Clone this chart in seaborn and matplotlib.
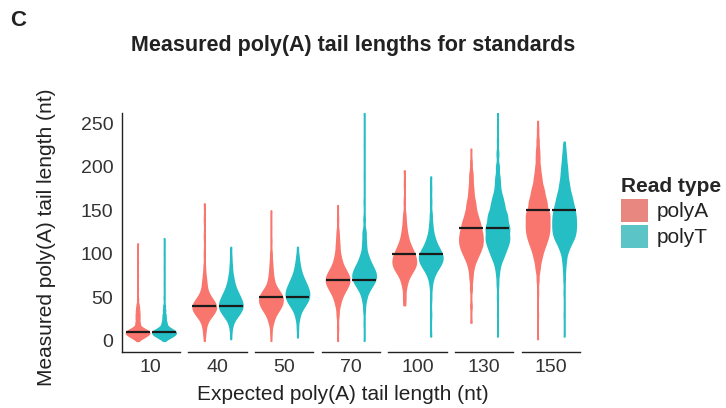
import numpy as np
import matplotlib
matplotlib.use('Agg')
import matplotlib.pyplot as plt
from matplotlib.patches import Patch
import seaborn as sns

sns.set_style('white')
plt.rcParams['font.family'] = ['Liberation Sans', 'DejaVu Sans']

#dados

expected = [10, 40, 50, 70, 100, 130, 150]
read_types = ['polyA', 'polyT']

#perfil de cada violino: nível (nt) e largura relativa

polyA_level = {
    10: [0, 2, 4, 6, 8, 10, 12, 14, 16, 19, 22, 26, 30, 34, 38, 42, 48, 60, 75, 90, 112],
    40: [0, 8, 14, 20, 25, 30, 35, 40, 45, 50, 55, 60, 65, 70, 76, 85, 100, 120, 140, 158],
    50: [0, 10, 20, 25, 30, 35, 40, 45, 50, 55, 60, 65, 70, 75, 82, 90, 100, 115, 130, 150],
    70: [0, 15, 30, 40, 45, 50, 55, 60, 65, 70, 75, 80, 85, 90, 95, 100, 108, 116, 125, 140, 156],
    100: [41, 50, 60, 66, 70, 75, 80, 85, 90, 95, 100, 105, 110, 115, 120, 125, 130, 137, 145, 160, 180, 196],
    130: [21, 40, 60, 72, 80, 85, 90, 95, 100, 105, 110, 115, 120, 125, 130, 135, 140, 147, 155, 162, 170, 177, 185, 193, 205, 221],
    150: [2, 30, 55, 70, 81, 87, 93, 98, 104, 110, 116, 122, 128, 134, 140, 145, 150, 157, 163, 170, 177, 185, 192, 200, 210, 219, 230, 242, 253],
}
polyA_width = {
    10: [1, 6, 12, 18, 23, 25, 20, 12, 6, 4, 3.5, 3.5, 3.5, 3, 2.5, 1.5, 0.8, 0.5, 0.5, 0.5, 0.5],
    40: [0.5, 1.5, 2.5, 4, 8, 15, 21, 23, 18, 12, 7, 4.5, 4, 3, 2, 1, 0.6, 0.5, 0.5, 0.5],
    50: [0.5, 1, 3, 5, 9, 15, 20, 23.5, 23, 19, 12, 7, 5, 4, 3, 2, 1.2, 0.7, 0.5, 0.5],
    70: [0.5, 0.8, 1.5, 3, 5, 8, 12, 17, 22, 24, 22, 17, 12, 8.5, 6, 4.5, 3.5, 2.5, 1.5, 0.8, 0.5],
    100: [1.5, 2, 2.5, 4, 6, 10, 15, 20, 22, 21, 18, 15, 11, 8, 6, 4.5, 3.5, 2.5, 1.5, 0.8, 0.5, 0.5],
    130: [1, 1.2, 1.5, 2.5, 3.5, 5, 8, 12, 16, 20, 23, 24, 23.5, 22, 20, 17.5, 15, 12, 9, 7, 5, 4, 3.2, 2.5, 1.2, 0.5],
    150: [0.5, 0.6, 0.8, 1.5, 3, 4.5, 6.5, 9, 12, 16, 20, 23, 24.5, 25, 24.5, 23.5, 22, 19, 16.5, 14, 11, 8, 6, 4.5, 3.5, 2.8, 1.8, 1, 0.5],
}
polyT_level = {
    10: [0, 2, 4, 6, 8, 10, 12, 14, 16, 19, 22, 26, 30, 35, 40, 50, 65, 85, 100, 118],
    40: [2, 10, 16, 20, 25, 30, 35, 40, 45, 50, 55, 60, 65, 70, 76, 85, 95, 108],
    50: [4, 15, 25, 30, 35, 40, 45, 50, 55, 60, 65, 70, 75, 80, 85, 90, 97, 108],
    70: [0, 20, 35, 45, 50, 55, 60, 65, 70, 75, 80, 85, 90, 95, 100, 108, 116, 125, 140, 160, 190, 225, 262],
    100: [5, 30, 50, 62, 70, 75, 80, 85, 90, 95, 100, 105, 110, 115, 120, 127, 135, 145, 160, 175, 189],
    130: [5, 30, 50, 65, 75, 81, 85, 89, 93, 97, 102, 108, 114, 120, 127, 133, 140, 147, 155, 162, 168, 175, 182, 189, 200, 215, 230, 245, 262],
    150: [5, 30, 55, 70, 80, 88, 94, 100, 105, 110, 116, 122, 128, 134, 140, 146, 152, 158, 164, 170, 177, 184, 192, 200, 208, 215, 222, 229],
}
polyT_width = {
    10: [1, 6, 13, 19, 24, 25, 21, 13, 8, 5, 4, 3, 2.5, 2, 1.5, 0.8, 0.5, 0.5, 0.5, 0.5],
    40: [0.5, 1, 2, 3.5, 8, 15, 21, 24, 22, 18, 14, 10, 7, 5, 3.5, 2, 1, 0.6],
    50: [0.5, 1, 2.5, 4, 8, 14, 20, 24, 24.5, 22, 18, 14, 10, 7, 5, 3.5, 2, 0.7],
    70: [0.5, 0.7, 1.2, 2.5, 4, 7, 12, 18, 23, 25, 22, 18, 13, 9, 6, 4, 3, 2.5, 1.2, 0.7, 0.5, 0.5, 0.5],
    100: [0.5, 0.6, 0.8, 1.5, 3.5, 6, 11, 17, 22, 25, 23, 18, 13, 9, 6.5, 4, 2.5, 1.5, 0.8, 0.6, 0.5],
    130: [0.5, 0.6, 0.8, 1.2, 2, 3, 4.5, 6, 9, 12, 16, 20, 23, 24, 24, 22, 20, 18, 14, 11, 8, 5.5, 4.5, 3.5, 2.5, 1.5, 0.8, 0.6, 0.5],
    150: [0.5, 0.6, 0.8, 1, 1.5, 2.5, 3.5, 5, 8, 12, 18, 21.5, 23, 23, 23, 22, 20, 17.5, 15, 12.5, 10, 8, 6.5, 5.5, 4, 3, 2, 1],
}

levels = {'polyA': polyA_level, 'polyT': polyT_level}
widths = {'polyA': polyA_width, 'polyT': polyT_width}

colors = {'polyA': '#F8766D', 'polyT': '#24BEC4'}
key_colors = {'polyA': '#E8877F', 'polyT': '#5BC4C7'}
bandwidth = {10: 1.8, 40: 4.5, 50: 4.5, 70: 4.5, 100: 4.5, 130: 4.5, 150: 4.5}

W, H = 726, 408
fig = plt.figure(figsize=(W/100, H/100), dpi=100)

bottom = 1 - 351.7/H
top = 1 - 112.6/H

for i, exp in enumerate(expected):
    ax = fig.add_axes([(121.7 + 66.67*i)/W, bottom, 58.3/W, top - bottom])
    h = bandwidth[exp]
    for j, rt in enumerate(read_types):
        lv = np.array(levels[rt][exp], dtype=float)
        w = np.array(widths[rt][exp], dtype=float)
        #pesos -> contagens, para o kde reproduzir a largura lida
        gap = np.minimum(np.gradient(lv), 2.5*h)
        n = np.round(w*gap*10).astype(int)
        vals = np.repeat(lv, n)
        sns.violinplot(x=[rt]*len(vals), y=vals, order=read_types,
                       color=colors[rt], linecolor=colors[rt], linewidth=1.1,
                       width=0.88, cut=0, inner=None, density_norm='width',
                       bw_method=h/vals.std(), gridsize=400, saturation=1, ax=ax)
        ax.hlines(exp, j - 0.45, j + 0.45, color='#1a1a1a', lw=1.6, zorder=5)

    ax.set_xlim(-0.6, 1.6)
    ax.set_ylim(-12.5, 262.5)
    ax.set_xlabel('')
    ax.set_ylabel('')
    ax.set_xticks([0.5], [str(exp)])
    ax.tick_params(axis='x', length=0, pad=5, labelsize=14, labelcolor='#333333')
    ax.spines['top'].set_visible(False)
    ax.spines['right'].set_visible(False)
    ax.spines['bottom'].set_color('#222222')
    ax.spines['bottom'].set_linewidth(1.0)
    ax.patch.set_alpha(0)
    if i == 0:
        ax.set_yticks([0, 50, 100, 150, 200, 250])
        ax.tick_params(axis='y', length=3.6, width=1.0, pad=2.4, labelsize=14,
                       color='#222222', labelcolor='#333333')
        ax.spines['left'].set_color('#222222')
        ax.spines['left'].set_linewidth(1.0)
    else:
        ax.spines['left'].set_visible(False)
        ax.set_yticks([])

#textos

fig.text(18/W, 1 - 20/H, 'C', fontsize=16, fontweight='bold', color='#222222',
         ha='center', va='center')
fig.text(353/W, 1 - 45/H, 'Measured poly(A) tail lengths for standards', fontsize=15.5,
         fontweight='bold', color='#222222', ha='center', va='center')
fig.text(343/W, 1 - 394/H, 'Expected poly(A) tail length (nt)', fontsize=15,
         color='#222222', ha='center', va='center')
fig.text(47/W, 1 - 237/H, 'Measured poly(A) tail length (nt)', fontsize=15,
         color='#222222', ha='center', va='center', rotation=90)

handles = [Patch(facecolor=key_colors[rt], edgecolor='none') for rt in read_types]
fig.legend(handles, read_types, loc='upper left', bbox_to_anchor=(621/W, 1 - 177/H),
           frameon=False, title='Read type', fontsize=15,
           title_fontproperties={'weight': 'bold', 'size': 15},
           handlelength=1.3, handleheight=1.3, labelspacing=0.15, handletextpad=0.4,
           borderpad=0, borderaxespad=0, alignment='left', labelcolor='#222222')

fig.savefig('out.png', dpi=100)
